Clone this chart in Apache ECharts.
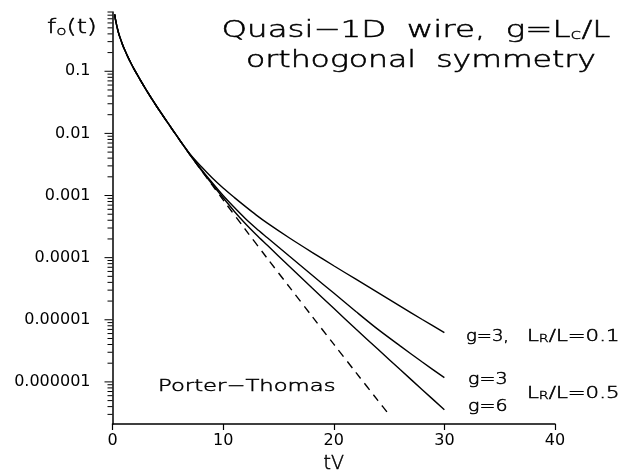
<!DOCTYPE html>
<html><head><meta charset="utf-8">
<script src="https://cdn.jsdelivr.net/npm/echarts@6/dist/echarts.min.js"></script>
<style>html,body{margin:0;padding:0;background:#fff}#c{width:637px;height:475px}</style>
</head><body><div id="c"></div>
<script>
// ---- data ----
const tPT = [0.2,0.3,0.5,0.7,1,1.5,2,3,4,5,6,7,8,9,10,12,14,16,18,20,22,24,25];
const fPT = [0.81,0.627,0.439,0.336,0.242,0.154,0.104,0.0514,0.027,0.0147,0.0081,0.00455,0.00258,0.00148,8.5e-4,2.85e-4,9.7e-5,3.35e-5,1.16e-5,4.05e-6,1.42e-6,5.0e-7,2.97e-7];

const tG = [0.2,0.3,0.5,0.7,1,1.5,2,3,4,5,6,7,8,9,10,11,12,13,14,16,18,20,22,24,26,28,30];
// g=3, L_R/L=0.1
const fG3a = [0.83,0.64,0.447,0.342,0.246,0.156,0.105,0.052,0.0273,0.0149,0.0082,0.00468,0.00295,0.00193,0.00132,9.33e-4,6.68e-4,4.84e-4,3.59e-4,2.07e-4,1.23e-4,7.4e-5,4.5e-5,2.74e-5,1.66e-5,1.01e-5,6.2e-6];
// g=3, L_R/L=0.5
const fG3b = [0.82,0.635,0.443,0.339,0.244,0.155,0.1045,0.0517,0.0271,0.0148,0.00815,0.00457,0.00269,0.00162,0.001,6.46e-4,4.27e-4,2.95e-4,2.09e-4,1.05e-4,5.3e-5,2.69e-5,1.36e-5,7.0e-6,3.8e-6,2.09e-6,1.17e-6];
// g=6, L_R/L=0.5
const fG6 = [0.82,0.635,0.443,0.339,0.244,0.155,0.1045,0.0517,0.0271,0.0148,0.00815,0.00452,0.0026,0.00153,9.2e-4,5.6e-4,3.55e-4,2.34e-4,1.58e-4,7.2e-5,3.3e-5,1.53e-5,7.1e-6,3.35e-6,1.58e-6,7.5e-7,3.55e-7];

const xTicks = [0,10,20,30,40];
const yMajorTicks = [1e-6,1e-5,1e-4,1e-3,1e-2,1e-1];
const yTickLabels = ['0.000001','0.00001','0.0001','0.001','0.01','0.1'];
const yDecades = [1e-7,1e-6,1e-5,1e-4,1e-3,1e-2,1e-1];
const yMinorMults = [2,3,4,5,6,7,8,9];
const yMin = 2.1e-7, yMax = 0.9;

// ---- chart ----
const F = '"DejaVu Sans", sans-serif';
const W = 200;
const yMinorTicks = [];
yDecades.forEach(d => yMinorMults.forEach(m => { const v = m * d; if (v >= yMin * 0.999 && v <= yMax * 1.001) yMinorTicks.push(v); }));

const pairs = (ts, fs) => ts.map((t, i) => [t, fs[i]]);
const solid = (name, ts, fs) => ({
  type: 'line', name, data: pairs(ts, fs), showSymbol: false, smooth: 0.3, silent: true,
  lineStyle: { color: '#000', width: 1.4 }, z: 5
});
const tickSeries = (vals, len) => ({
  type: 'custom', silent: true, clip: false, z: 6,
  data: vals.map(v => [0, v]),
  renderItem: (params, api) => {
    const p = api.coord([0, api.value(1)]);
    return { type: 'line', shape: { x1: p[0] - len, y1: p[1], x2: p[0], y2: p[1] }, style: { stroke: '#000', lineWidth: 1 } };
  }
});
const SW = 0.5;
const txt = (text, x, y, size, scaleX, align, rich) => ({
  type: 'text', x, y, scaleX, silent: true,
  style: { text, fontSize: size, fontFamily: F, fontWeight: W, fill: '#000', stroke: '#000', lineWidth: SW,
    align: align || 'left', verticalAlign: 'middle', rich }
});
const richNS = (n, s) => ({
  n: { fontSize: n, fontFamily: F, fontWeight: W, verticalAlign: 'bottom', fill: '#000', stroke: '#000', lineWidth: SW },
  s: { fontSize: s, fontFamily: F, fontWeight: W, verticalAlign: 'bottom', fill: '#000', stroke: '#000', lineWidth: SW * 0.7 }
});

const chart = echarts.init(document.getElementById('c'), null, { renderer: 'canvas' });
chart.setOption({
  backgroundColor: '#fff',
  animation: false,
  grid: { left: 112.5, right: 82, top: 12, bottom: 51, containLabel: false, outerBoundsMode: 'none' },
  xAxis: {
    type: 'value', min: xTicks[0], max: xTicks[xTicks.length - 1], interval: 10,
    name: 'tV', nameLocation: 'middle', nameGap: 31,
    nameTextStyle: { fontSize: 19, fontFamily: F, fontWeight: W, color: '#000', textBorderColor: '#000', textBorderWidth: SW },
    axisLine: { onZero: false, lineStyle: { color: '#000', width: 1.5 } },
    axisTick: { show: true, inside: false, length: 6, lineStyle: { color: '#000', width: 1.2 } },
    axisLabel: { fontSize: 16, fontFamily: F, color: '#000', margin: 9 },
    splitLine: { show: false }
  },
  yAxis: {
    type: 'log', logBase: 10, min: yMin, max: yMax, splitNumber: 5,
    axisLine: { show: true, onZero: false, lineStyle: { color: '#000', width: 1.5 } },
    axisTick: { show: false },
    axisLabel: {
      fontSize: 16, fontFamily: F, color: '#000', margin: 22,
      showMinLabel: false, showMaxLabel: false,
      formatter: v => {
        const k = Math.round(Math.log10(v));
        const i = yMajorTicks.findIndex(t => Math.round(Math.log10(t)) === k);
        return i >= 0 ? yTickLabels[i] : '';
      }
    },
    splitLine: { show: false }
  },
  series: [
    { type: 'line', name: 'Porter-Thomas', data: pairs(tPT, fPT), showSymbol: false, smooth: 0.3, silent: true,
      lineStyle: { color: '#000', width: 1.4, type: [8, 6] }, z: 5 },
    solid('g=3, LR/L=0.1', tG, fG3a),
    solid('g=3, LR/L=0.5', tG, fG3b),
    solid('g=6, LR/L=0.5', tG, fG6),
    tickSeries(yMajorTicks, 8),
    tickSeries(yMinorTicks, 5)
  ],
  graphic: [
    txt('{n|Quasi−1D  wire,  g=L}{s|c}{n|/L}', 416, 31, 23, 1.41, 'center', richNS(23, 14)),
    txt('orthogonal  symmetry', 421, 61, 23, 1.37, 'center'),
    txt('{n|f}{s|o}{n|(t)}', 47, 28, 20, 1.3, 'left', richNS(20, 13)),
    txt('Porter−Thomas', 158, 387, 16, 1.42, 'left'),
    txt('g=3,', 466, 337, 15, 1.2, 'left'),
    txt('{n|L}{s|R}{n|/L=0.1}', 527, 337, 15, 1.42, 'left', richNS(15, 10)),
    txt('g=3', 468, 380, 15, 1.27, 'left'),
    txt('g=6', 468, 407, 15, 1.27, 'left'),
    txt('{n|L}{s|R}{n|/L=0.5}', 527, 394, 15, 1.42, 'left', richNS(15, 10))
  ]
});
</script>
</body></html>
